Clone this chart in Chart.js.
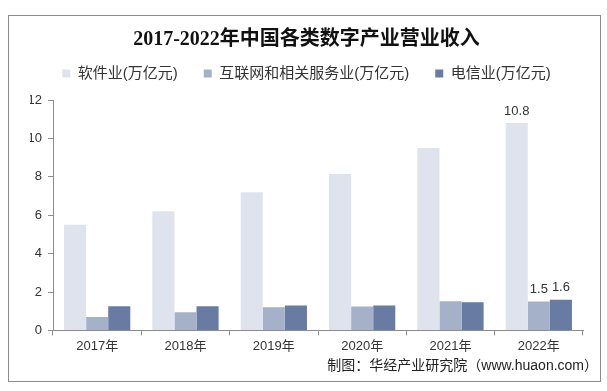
<!DOCTYPE html>
<html>
<head>
<meta charset="utf-8">
<script src="https://cdn.jsdelivr.net/npm/chart.js@4.4.0/dist/chart.umd.min.js"></script>
<style>
  html, body { margin: 0; padding: 0; background: #fff; }
  #wrap { width: 607px; height: 391px; }
</style>
</head>
<body>
<div id="wrap"><canvas id="chart" width="607" height="391"></canvas></div>
<script>
// datos
const years = ['2017年', '2018年', '2019年', '2020年', '2021年', '2022年'];
const software = [5.5, 6.2, 7.2, 8.15, 9.5, 10.8];
const internet = [0.7, 0.95, 1.2, 1.25, 1.52, 1.5];
const telecom = [1.26, 1.26, 1.3, 1.3, 1.47, 1.6];
const yTicks = [0, 2, 4, 6, 8, 10, 12];
const seriesNames = ['软件业(万亿元)', '互联网和相关服务业(万亿元)', '电信业(万亿元)'];
const sourceText = '制图：华经产业研究院（www.huaon.com）';

const cjk = "'Liberation Sans', 'Noto Sans CJK SC', sans-serif";

// marco gris alrededor + texto de la fuente
const framePlugin = {
    id: 'frame',
    beforeDraw(chart) {
        const ctx = chart.ctx;
        ctx.save();
        ctx.fillStyle = '#fff';
        ctx.fillRect(0, 0, chart.width, chart.height);
        ctx.strokeStyle = '#8c8c8c';
        ctx.lineWidth = 1;
        ctx.strokeRect(8.5, 15.5, 592, 366);
        ctx.restore();
    },
    afterDraw(chart) {
        const ctx = chart.ctx;
        ctx.save();
        ctx.font = '14px ' + cjk;
        ctx.fillStyle = '#222';
        ctx.textAlign = 'right';
        ctx.textBaseline = 'middle';
        ctx.fillText(sourceText, 598, 366);
        ctx.restore();
    }
};

// etiquetas solo para el ultimo año
const lastLabels = {
    id: 'lastLabels',
    afterDatasetsDraw(chart) {
        const ctx = chart.ctx;
        const last = years.length - 1;
        ctx.save();
        ctx.font = '13px ' + cjk;
        ctx.fillStyle = '#333';
        ctx.textAlign = 'center';
        ctx.textBaseline = 'middle';
        chart.data.datasets.forEach((ds, i) => {
            const bar = chart.getDatasetMeta(i).data[last];
            ctx.fillText(ds.data[last].toFixed(1), bar.x, bar.y - 12);
        });
        ctx.restore();
    }
};

new Chart(document.getElementById('chart'), {
    type: 'bar',
    data: {
        labels: years,
        datasets: [
            { label: seriesNames[0], data: software, backgroundColor: '#dfe3ed' },
            { label: seriesNames[1], data: internet, backgroundColor: '#a5b0c9' },
            { label: seriesNames[2], data: telecom, backgroundColor: '#687ba2' }
        ]
    },
    options: {
        responsive: false,
        animation: false,
        devicePixelRatio: 1,
        categoryPercentage: 0.75,
        barPercentage: 1,
        layout: { padding: { left: 30, right: 24, top: 28, bottom: 34 } },
        plugins: {
            tooltip: { enabled: false },
            title: {
                display: true,
                text: '2017-2022年中国各类数字产业营业收入',
                color: '#111',
                font: { family: "'Liberation Serif', 'Noto Sans CJK SC', serif", size: 20, weight: 'bold' },
                padding: { top: 0, bottom: -12 }
            },
            legend: {
                display: true,
                labels: {
                    color: '#333',
                    font: { family: cjk, size: 15 },
                    boxWidth: 8,
                    boxHeight: 8,
                    padding: 26
                }
            }
        },
        scales: {
            x: {
                grid: { display: true, drawOnChartArea: false, tickLength: 5, color: '#8c8c8c' },
                border: { color: '#8c8c8c' },
                ticks: { color: '#333', font: { family: cjk, size: 13 }, padding: 3 }
            },
            // eje vacio arriba, solo para dejar hueco bajo la leyenda
            gap: {
                type: 'category',
                position: 'top',
                display: true,
                grid: { display: false },
                border: { display: false },
                ticks: { display: false },
                afterFit(scale) { scale.height = 9; }
            },
            y: {
                min: 0,
                max: 12,
                afterFit(scale) { scale.width = 23; },
                afterBuildTicks(scale) { scale.ticks = yTicks.map(v => ({ value: v })); },
                grid: { display: true, drawOnChartArea: false, tickLength: 5, color: '#8c8c8c' },
                border: { color: '#8c8c8c' },
                ticks: { color: '#333', font: { family: cjk, size: 13 }, padding: 6 }
            }
        }
    },
    plugins: [framePlugin, lastLabels]
});
</script>
</body>
</html>
